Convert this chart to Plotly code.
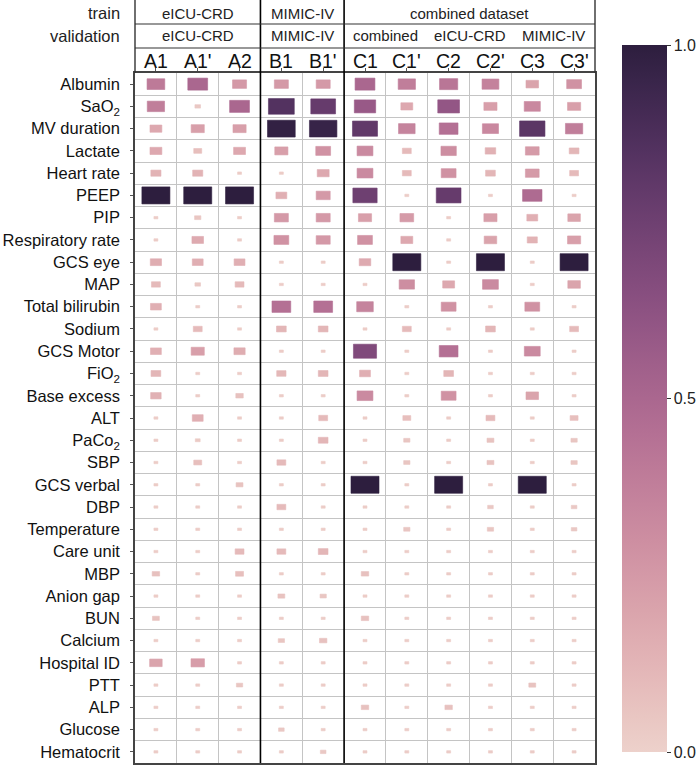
import numpy as np
import plotly.graph_objects as go

# ---------------- data ----------------
features = ["Albumin", "SaO<sub>2</sub>", "MV duration", "Lactate", "Heart rate", "PEEP", "PIP",
            "Respiratory rate", "GCS eye", "MAP", "Total bilirubin", "Sodium", "GCS Motor",
            "FiO<sub>2</sub>", "Base excess", "ALT", "PaCo<sub>2</sub>", "SBP", "GCS verbal", "DBP",
            "Temperature", "Care unit", "MBP", "Anion gap", "BUN", "Calcium", "Hospital ID",
            "PTT", "ALP", "Glucose", "Hematocrit"]
models = ["A1", "A1'", "A2", "B1", "B1'", "C1", "C1'", "C2", "C2'", "C3", "C3'"]

T = 0.02
A1 = [.40, .38, .18, .18, .13, 1.0, T, T, .16, .10, .15, T, .15, .12, .14, T, T, T, T, T, T, T, .07, T, .06, T, .20, T, T, T, T]
A1p = [.50, .04, .22, .08, .13, 1.0, .05, .17, .15, .04, T, .10, .22, T, T, .15, .03, .08, T, T, T, T, T, T, T, T, .23, T, T, T, T]
A2 = [.25, .50, .22, .18, T, 1.0, T, T, .15, .10, T, T, .16, T, .07, T, T, T, .06, T, T, .10, .08, T, T, T, T, .05, T, T, T]
B1 = [.25, .85, .98, .22, T, .15, .25, .28, T, T, .45, .12, T, .11, T, T, T, .10, T, .10, T, .10, T, .06, T, .05, T, T, T, .04, T]
B1p = [.25, .78, .96, .28, .18, .25, .25, .25, T, T, .45, .12, T, .12, T, .10, .12, T, T, T, T, .12, T, .05, T, .07, T, T, T, T, .04]
C1 = [.50, .58, .80, .32, .32, .75, .22, .28, .17, T, .35, T, .68, .15, .32, T, T, T, 1.0, T, T, T, .07, T, .07, T, T, T, .07, T, T]
C1p = [.38, .18, .35, .10, .10, T, .24, .18, 1.0, .30, T, .10, T, T, T, .08, .05, .05, T, T, .05, T, T, T, T, T, T, T, T, T, T]
C2 = [.42, .60, .45, .30, .28, .78, T, T, T, .18, .28, T, .45, .12, .28, T, T, T, 1.0, T, T, T, T, T, T, T, T, T, .07, T, T]
C2p = [.36, .22, .33, .14, .12, T, .22, .20, 1.0, .32, T, .12, T, T, T, .10, .06, .06, T, .04, .05, T, T, T, T, T, T, T, T, T, T]
C3 = [.20, .33, .82, .24, .24, .48, .15, .13, T, T, .28, T, .32, T, .20, T, T, T, 1.0, T, T, T, T, T, T, T, T, .06, T, T, T]
C3p = [.28, .22, .38, .12, .10, T, .20, .22, 1.0, .20, T, .10, T, T, T, .08, .05, .05, T, .04, .04, T, T, T, T, T, T, T, T, T, T]
columns = [A1, A1p, A2, B1, B1p, C1, C1p, C2, C2p, C3, C3p]

train_groups = [("eICU-CRD", 0, 2), ("MIMIC-IV", 3, 4), ("combined dataset", 5, 10)]
valid_groups = [("eICU-CRD", 0, 2), ("MIMIC-IV", 3, 4), ("combined", 5, 6), ("eICU-CRD", 7, 8), ("MIMIC-IV", 9, 10)]
group_breaks = [2.5, 4.5]

# ---------------- colour map (seaborn default cubehelix) ----------------
def cubehelix(v, start=0.0, rot=0.4, gamma=1.0, hue=0.8, light=0.85, dark=0.15):
    x = light + (dark - light) * v
    xg = x ** gamma
    a = hue * xg * (1 - xg) / 2
    phi = 2 * np.pi * (start / 3 + rot * x)
    r = xg + a * (-0.14861 * np.cos(phi) + 1.78277 * np.sin(phi))
    g = xg + a * (-0.29227 * np.cos(phi) - 0.90649 * np.sin(phi))
    b = xg + a * (1.97294 * np.cos(phi))
    c = [int(round(255 * min(max(t, 0), 1))) for t in (r, g, b)]
    return "rgb(%d,%d,%d)" % tuple(c)

colorscale = [[s, cubehelix(s)] for s in np.linspace(0, 1, 21)]

FONT = "Arial, Liberation Sans, Helvetica, sans-serif"
nrows = len(features)
ncols = len(models)

# plot-area geometry in pixels
W, H = 700, 766
L, R, TP, BT = 135, 595, 73, 763
PH = BT - TP
PW = R - L

def ypix(py):
    return (BT - py) / PH

def xpix(px):
    return (px - L) / PW

fig = go.Figure()

# invisible points carry the colorbar and hover
xs, ys, vs = [], [], []
for j, col in enumerate(columns):
    for i, v in enumerate(col):
        xs.append(j); ys.append(i); vs.append(v)
fig.add_trace(go.Scatter(
    x=xs, y=ys, mode="markers",
    marker=dict(size=20, color=vs, colorscale=colorscale, cmin=0, cmax=1, opacity=0,
                showscale=True,
                colorbar=dict(x=xpix(622), xanchor="left", y=ypix(45), yanchor="top",
                              xpad=0, ypad=0,
                              len=(752 - 45) / PH, lenmode="fraction", thickness=45,
                              outlinewidth=0, ticks="outside", ticklen=4, tickcolor="#333",
                              tickvals=[0, 0.5, 1], ticktext=["0.0", "0.5", "1.0"],
                              tickfont=dict(family=FONT, size=16, color="#222"))),
    hovertemplate="%{y}<br>%{x}<br>%{marker.color:.2f}<extra></extra>",
    showlegend=False))

# rectangles: size and colour from value
HW, HH = 0.335, 0.382
shapes = []
for j, col in enumerate(columns):
    for i, v in enumerate(col):
        s = np.sqrt(v)
        c = cubehelix(v)
        shapes.append(dict(type="rect", xref="x", yref="y",
                           x0=j - HW * s, x1=j + HW * s, y0=i - HH * s, y1=i + HH * s,
                           fillcolor=c, line=dict(width=0.6, color=c), layer="above"))

# group separators (thick black)
TOPY = BT / PH
for b in group_breaks:
    shapes.append(dict(type="line", xref="x", yref="paper", x0=b, x1=b, y0=0, y1=TOPY,
                       line=dict(color="black", width=1.6)))
# header frame
for py in [24, 48]:
    yy = ypix(py)
    shapes.append(dict(type="line", xref="paper", yref="paper", x0=0, x1=1, y0=yy, y1=yy,
                       line=dict(color="#333", width=1.2)))
for xx in [0, 1]:
    shapes.append(dict(type="line", xref="paper", yref="paper", x0=xx, x1=xx, y0=1, y1=TOPY,
                       line=dict(color="#333", width=1.4)))

annotations = []
annotations.append(dict(text="train", xref="paper", yref="paper", x=xpix(122), y=ypix(13),
                        xanchor="right", yanchor="middle", showarrow=False,
                        font=dict(family=FONT, size=16.5, color="#222")))
annotations.append(dict(text="validation", xref="paper", yref="paper", x=xpix(122), y=ypix(36),
                        xanchor="right", yanchor="middle", showarrow=False,
                        font=dict(family=FONT, size=16.5, color="#222")))
for name, a, b in train_groups:
    annotations.append(dict(text=name, xref="x", yref="paper", x=(a + b) / 2, y=ypix(13),
                            xanchor="center", yanchor="middle", showarrow=False,
                            font=dict(family=FONT, size=15, color="#222")))
for name, a, b in valid_groups:
    annotations.append(dict(text=name, xref="x", yref="paper", x=(a + b) / 2, y=ypix(36),
                            xanchor="center", yanchor="middle", showarrow=False,
                            font=dict(family=FONT, size=15, color="#222")))
for j, m in enumerate(models):
    annotations.append(dict(text=m, xref="x", yref="paper", x=j, y=ypix(61),
                            xanchor="center", yanchor="middle", showarrow=False,
                            font=dict(family=FONT, size=19.5, color="#111")))

fig.update_layout(
    width=W, height=H,
    margin=dict(l=L, r=W - R, t=TP, b=H - BT, autoexpand=False),
    plot_bgcolor="white", paper_bgcolor="white",
    font=dict(family=FONT, color="#222"),
    shapes=shapes, annotations=annotations,
    xaxis=dict(range=[-0.5, ncols - 0.5], side="top", tickvals=list(range(ncols)), ticktext=models,
               showticklabels=False,
               ticks="outside", ticklen=3, tickcolor="#555",
               showgrid=False, zeroline=False, automargin=False,
               showline=True, mirror=True, linecolor="#444", linewidth=1.5,
               minor=dict(tickvals=[k - 0.5 for k in range(ncols + 1)], showgrid=True,
                          gridcolor="#c4c4c4", gridwidth=1, ticks=""),
               fixedrange=True),
    yaxis=dict(range=[nrows - 0.5, -0.5], tickvals=list(range(nrows)), ticktext=features,
               tickfont=dict(family=FONT, size=16.5, color="#111"),
               ticks="outside", ticklen=3, tickcolor="#555", ticklabelstandoff=7,
               showgrid=False, zeroline=False, automargin=False,
               showline=True, mirror=True, linecolor="#444", linewidth=1.5,
               minor=dict(tickvals=[k - 0.5 for k in range(nrows + 1)], showgrid=True,
                          gridcolor="#c4c4c4", gridwidth=1.2, ticks=""),
               fixedrange=True),
)

fig.write_html("out.html", config={"displayModeBar": False},
               post_script="document.body.style.margin='0';document.body.style.overflow='hidden';")
